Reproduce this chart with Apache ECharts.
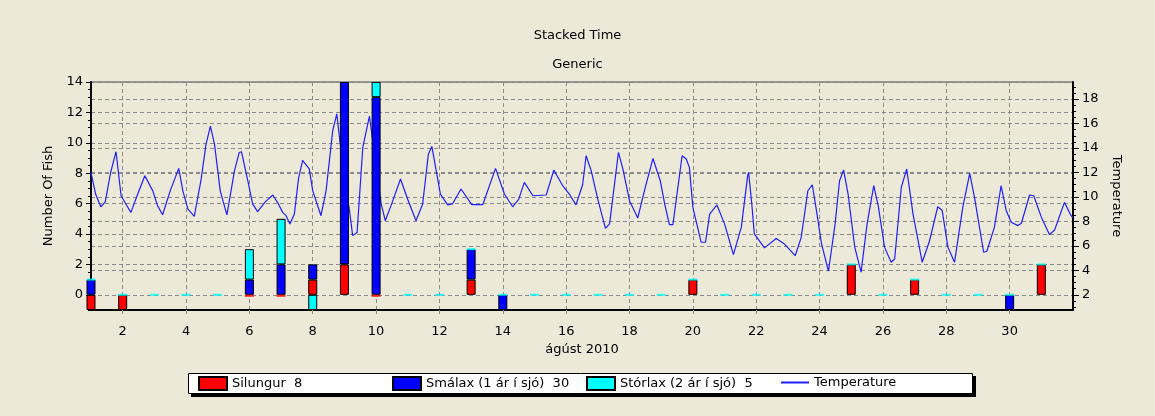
<!DOCTYPE html>
<html><head><meta charset="utf-8">
<script src="https://cdn.jsdelivr.net/npm/echarts@6/dist/echarts.min.js"></script>
<style>html,body{margin:0;padding:0;background:#ECE9D8;}#c{width:1155px;height:416px;}</style>
</head><body><div id="c"></div>
<script>
// ---- data ----
const days = [1,2,3,4,5,6,7,8,9,10,11,12,13,14,15,16,17,18,19,20,21,22,23,24,25,26,27,28,29,30,31];
const silungur = [-1,-1,0,0,0,0,0,1,2,0,0,0,1,0,0,0,0,0,0,1,0,0,0,0,2,0,1,0,0,0,2];
const smalax   = [1,0,0,0,0,1,2,1,12,13,0,0,2,-1,0,0,0,0,0,0,0,0,0,0,0,0,0,0,0,-1,0];
const storlax  = [0,0,0,0,0,2,3,-1,0,1,0,0,0,0,0,0,0,0,0,0,0,0,0,0,0,0,0,0,0,0,0];
const temperature = [
 [1.0,12.0],[1.06,11.9],[1.15,10.2],[1.31,9.2],[1.45,9.6],[1.62,12.0],[1.79,13.7],[1.95,10.1],[2.1,9.43],
 [2.26,8.74],[2.47,10.2],[2.70,11.74],[2.95,10.5],[3.1,9.29],[3.26,8.55],[3.5,10.5],[3.77,12.34],[3.9,10.5],
 [4.06,9.0],[4.26,8.42],[4.47,11.33],[4.63,14.3],[4.77,15.8],[4.9,14.3],[5.08,10.5],[5.29,8.53],[5.53,12.15],
 [5.68,13.64],[5.75,13.7],[5.95,11.33],[6.1,9.43],[6.26,8.8],[6.5,9.6],[6.74,10.16],[6.9,9.5],[7.05,8.74],
 [7.15,8.5],[7.28,7.8],[7.42,8.6],[7.55,11.5],[7.68,13.0],[7.89,12.3],[8.0,10.5],[8.26,8.47],[8.42,10.5],
 [8.63,15.4],[8.76,16.8],[8.82,15.4],[9.0,11.5],[9.16,8.9],[9.26,6.84],[9.40,7.1],[9.58,14.05],[9.79,16.6],
 [10.0,12.5],[10.16,9.43],[10.29,8.06],[10.5,9.5],[10.77,11.47],[11.0,9.8],[11.26,8.06],[11.47,9.43],
 [11.65,13.5],[11.76,14.13],[12.03,10.24],[12.26,9.35],[12.41,9.43],[12.68,10.65],[13.02,9.38],[13.37,9.38],
 [13.77,12.34],[14.05,10.24],[14.31,9.2],[14.5,9.8],[14.68,11.19],[14.95,10.1],[15.37,10.16],[15.61,12.2],
 [15.89,10.92],[16.1,10.24],[16.31,9.35],[16.52,11.0],[16.63,13.37],[16.79,12.15],[17.0,9.8],[17.24,7.44],
 [17.37,7.8],[17.65,13.64],[17.79,12.29],[18.0,9.7],[18.26,8.28],[18.5,10.8],[18.74,13.15],[18.97,11.33],
 [19.11,9.43],[19.26,7.74],[19.37,7.74],[19.66,13.37],[19.79,13.1],[19.89,12.42],[20.0,9.15],[20.26,6.3],
 [20.4,6.3],[20.53,8.6],[20.76,9.35],[21.0,7.8],[21.28,5.29],[21.53,7.53],[21.73,11.74],[21.76,12.0],
 [21.86,9.43],[21.94,6.98],[22.26,5.84],[22.63,6.6],[22.87,6.2],[23.23,5.2],[23.42,6.7],[23.63,10.51],
 [23.77,11.0],[23.9,8.9],[24.06,6.18],[24.28,3.93],[24.49,7.8],[24.63,11.33],[24.76,12.2],[24.9,10.24],
 [25.11,5.9],[25.31,3.85],[25.5,7.8],[25.71,10.92],[25.86,9.15],[26.05,5.9],[26.26,4.66],[26.37,4.93],
 [26.58,10.79],[26.75,12.29],[26.95,8.6],[27.24,4.66],[27.47,6.4],[27.73,9.2],[27.87,8.9],[28.05,5.9],
 [28.26,4.66],[28.52,9.15],[28.74,11.93],[28.89,9.97],[29.18,5.48],[29.28,5.56],[29.52,7.53],[29.73,10.92],
 [29.89,8.9],[30.05,7.94],[30.26,7.66],[30.37,7.85],[30.63,10.16],[30.76,10.1],[31.0,8.35],[31.26,6.92],
 [31.42,7.3],[31.73,9.56],[31.94,8.47],[32.0,8.3]
];
const dayTicks  = [2,4,6,8,10,12,14,16,18,20,22,24,26,28,30];
const fishTicks = [0,2,4,6,8,10,12,14];
const tempTicks = [2,4,6,8,10,12,14,16,18];
const names = ['Silungur','Smálax (1 ár í sjó)','Stórlax (2 ár í sjó)','Temperature'];

// ---- build ----
const FONT = 'DejaVu Sans';
const FISH_MIN = -1, FISH_MAX = 14, DAY_MIN = 1, DAY_MAX = 32;
const sum = a => a.reduce((s,v)=>s+v,0);
const totals = {};
totals[names[0]] = sum(silungur); totals[names[1]] = sum(smalax); totals[names[2]] = sum(storlax);
function halfSteps(a,b){const r=[];for(let v=a;v<=b+1e-9;v+=0.5)r.push(+v.toFixed(2));return r;}
// category slots for the bars: one per day plus the closing edge of the month
const slots = days.map(String).concat([String(DAY_MAX)]);

function barData(arr){
  return arr.map(v=>({value:v, itemStyle: v===0?{opacity:0,borderWidth:0}:undefined}));
}
const posTop = days.map((d,i)=>[silungur[i],smalax[i],storlax[i]].filter(v=>v>0).reduce((s,v)=>s+v,0));
const cyanMarks = days.map((d,i)=>(storlax[i]===0 && posTop[i]<FISH_MAX)?[d,posTop[i]]:null).filter(Boolean);
const redMarks = days.map((d,i)=>(silungur[i]===0&&posTop[i]>0)?[d,0]:null).filter(Boolean);

const axisText = {color:'#000', fontFamily:FONT, fontSize:13};
const dashed = {color:'#8a8a8a', type:[4,3], width:1};
const barBase = {type:'bar', stack:'fish', barWidth:9, xAxisIndex:1, yAxisIndex:0, z:2, clip:true,
  emphasis:{disabled:true}};

const legendCommon = {top:376, padding:0, itemWidth:28, itemHeight:13, selectedMode:false, icon:'rect',
  textStyle:{color:'#000', fontFamily:FONT, fontSize:13},
  formatter: n => totals[n]!==undefined ? n+'  '+totals[n] : n};

const option = {
  animation:false,
  backgroundColor:'#ECE9D8',
  title:[
    {text:'Stacked Time', left:'center', top:24, textStyle:{color:'#000', fontFamily:FONT, fontSize:13, fontWeight:'normal'}},
    {text:'Generic', left:'center', top:53, textStyle:{color:'#000', fontFamily:FONT, fontSize:13, fontWeight:'normal'}}
  ],
  graphic:[
    {type:'rect', z:1, shape:{x:191, y:376, width:785, height:21}, style:{fill:'#000'}},
    {type:'rect', z:1, shape:{x:188.5, y:373.5, width:784, height:20}, style:{fill:'#fff', stroke:'#000', lineWidth:1}}
  ],
  legend:[
    Object.assign({data:[names[0]], left:198}, legendCommon),
    Object.assign({data:[names[1]], left:392}, legendCommon),
    Object.assign({data:[names[2]], left:586}, legendCommon),
    Object.assign({}, legendCommon, {data:[names[3]], left:781, itemHeight:2})
  ],
  grid:{left:91, right:82, top:82, bottom:106, show:true, borderColor:'#444', borderWidth:1, backgroundColor:'transparent', containLabel:false, outerBoundsMode:'none'},
  xAxis:[
    {type:'value', min:DAY_MIN, max:DAY_MAX, name:'ágúst 2010', nameLocation:'middle', nameGap:33,
      nameTextStyle:axisText,
      axisLine:{show:true, onZero:false, lineStyle:{color:'#000', width:2}},
      axisTick:{show:true, customValues:dayTicks, length:7, lineStyle:dashed},
      axisLabel:{customValues:dayTicks, margin:15, color:'#000', fontFamily:FONT, fontSize:13},
      splitLine:{show:true, lineStyle:dashed}},
    {type:'category', data:slots, boundaryGap:false, show:false,
      axisLine:{show:false}, axisTick:{show:false}, axisLabel:{show:false}, splitLine:{show:false}}
  ],
  yAxis:[
    {type:'value', position:'left', min:FISH_MIN, max:FISH_MAX, name:'Number Of Fish', nameLocation:'middle', nameGap:34, nameRotate:90,
      nameTextStyle:axisText,
      axisLine:{show:true, onZero:false, lineStyle:{color:'#000', width:2}},
      axisTick:{show:true, customValues:fishTicks, length:5, lineStyle:{color:'#000'}},
      axisLabel:{customValues:fishTicks, margin:8, color:'#000', fontFamily:FONT, fontSize:13},
      splitLine:{show:true, lineStyle:dashed}},
    {type:'value', position:'right', min:0.76, max:19.4, name:'Temperature', nameLocation:'middle', nameGap:32, nameRotate:-90,
      nameTextStyle:axisText,
      axisLine:{show:true, onZero:false, lineStyle:{color:'#000', width:2}},
      axisTick:{show:true, customValues:tempTicks, length:6, lineStyle:{color:'#000'}},
      axisLabel:{customValues:tempTicks, margin:9, color:'#000', fontFamily:FONT, fontSize:13},
      splitLine:{show:true, lineStyle:dashed}},
    {type:'value', position:'left', min:FISH_MIN, max:FISH_MAX,
      axisLine:{show:false}, axisLabel:{show:false}, splitLine:{show:false},
      axisTick:{show:true, customValues:halfSteps(-1,14), length:3, lineStyle:{color:'#000'}}},
    {type:'value', position:'right', min:0.76, max:19.4,
      axisLine:{show:false}, axisLabel:{show:false}, splitLine:{show:false},
      axisTick:{show:true, customValues:halfSteps(1,19), length:3, lineStyle:{color:'#000'}}}
  ],
  series:[
    {type:'line', name:names[3], data:temperature, xAxisIndex:0, yAxisIndex:1, symbol:'none', z:1,
      lineStyle:{color:'#1f1fff', width:1.2}, itemStyle:{color:'#1f1fff'}, emphasis:{disabled:true}},
    Object.assign({name:names[0], data:barData(silungur)}, barBase, {itemStyle:{color:'#ff0000', borderColor:'#000', borderWidth:1}}),
    Object.assign({name:names[1], data:barData(smalax)}, barBase, {itemStyle:{color:'#0000ff', borderColor:'#000', borderWidth:1}}),
    Object.assign({name:names[2], data:barData(storlax)}, barBase, {itemStyle:{color:'#00ffff', borderColor:'#000', borderWidth:1}}),
    {type:'scatter', name:'_red0', data:redMarks, xAxisIndex:0, yAxisIndex:0, symbol:'rect', symbolSize:[9,2], symbolOffset:[0,1],
      itemStyle:{color:'#ff0000'}, z:3, silent:true, clip:true, emphasis:{disabled:true}},
    {type:'scatter', name:'_cyan0', data:cyanMarks, xAxisIndex:0, yAxisIndex:0, symbol:'rect', symbolSize:[9,2],
      itemStyle:{color:'#00ffff'}, z:4, silent:true, clip:true, emphasis:{disabled:true}}
  ]
};
const chart = echarts.init(document.getElementById('c'), null, {renderer:'canvas'});
chart.setOption(option);
</script></body></html>
